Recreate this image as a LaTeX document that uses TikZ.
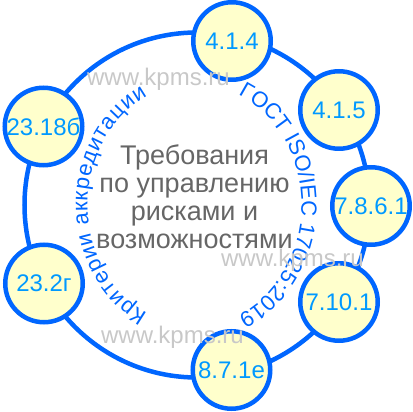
\documentclass[tikz,border=0pt]{standalone}
\usepackage{fontspec}
\setmainfont{Liberation Sans}
\usetikzlibrary{decorations.text}
\definecolor{ringblue}{HTML}{0066FF}
\definecolor{labelblue}{HTML}{0099FF}
\definecolor{paleyellow}{HTML}{FFFFCC}
\definecolor{titlegray}{HTML}{666666}
\definecolor{markgray}{HTML}{C8C8C8}
\newcommand{\arcfont}{\fontsize{22}{26}\selectfont}
\begin{document}
\begin{tikzpicture}[x=1pt, y=1pt,
  clause/.style={shape=circle, draw=ringblue, line width=4.5pt, fill=paleyellow, text=labelblue, minimum size=77.5pt, inner sep=0pt, font=\fontsize{24}{26}\selectfont},
  wmark/.style={text=markgray, font=\fontsize{24}{28}\selectfont, inner sep=0pt}]
\useasboundingbox (-194.5,-207) rectangle (218.5,205);
\node[shape=circle, draw=ringblue, line width=4.5pt, minimum size=345pt, inner sep=0pt] (ring) at (2.5,0) {};
\path[decorate, decoration={text along path, text align={fit to path}, text={|\arcfont\color{ringblue}|ГОСТ ISO/IEC 17025:2019}}]
  (66:107 and 121) arc[start angle=66, end angle=-66, x radius=107, y radius=121];
\path[decorate, decoration={text along path, text align={fit to path}, text={|\arcfont\color{ringblue}|Критерии аккредитации}}]
  (244:107 and 121) arc[start angle=244, end angle=116, x radius=107, y radius=121];
\node[text=titlegray, align=center, font=\fontsize{27}{28}\selectfont] (title) at (0,8.5) {Требования\\по управлению\\рисками и\\возможностями};
\node[clause] (c414) at (37.5,164) {4.1.4};
\node[clause] (c415) at (144.5,95) {4.1.5};
\node[clause] (c7861) at (176.5,-1) {7.8.6.1};
\node[clause] (c7101) at (144.5,-97) {7.10.1};
\node[clause] (c871e) at (37,-165) {8.7.1е};
\node[clause] (c232g) at (-150.5,-78.5) {23.2г};
\node[clause] (c2318b) at (-151,78.5) {23.18б};
\node[wmark] (wm1) at (-36,126) {www.kpms.ru};
\node[wmark] (wm2) at (98,-55) {www.kpms.ru};
\node[wmark] (wm3) at (-22,-132) {www.kpms.ru};
\end{tikzpicture}
\end{document}
